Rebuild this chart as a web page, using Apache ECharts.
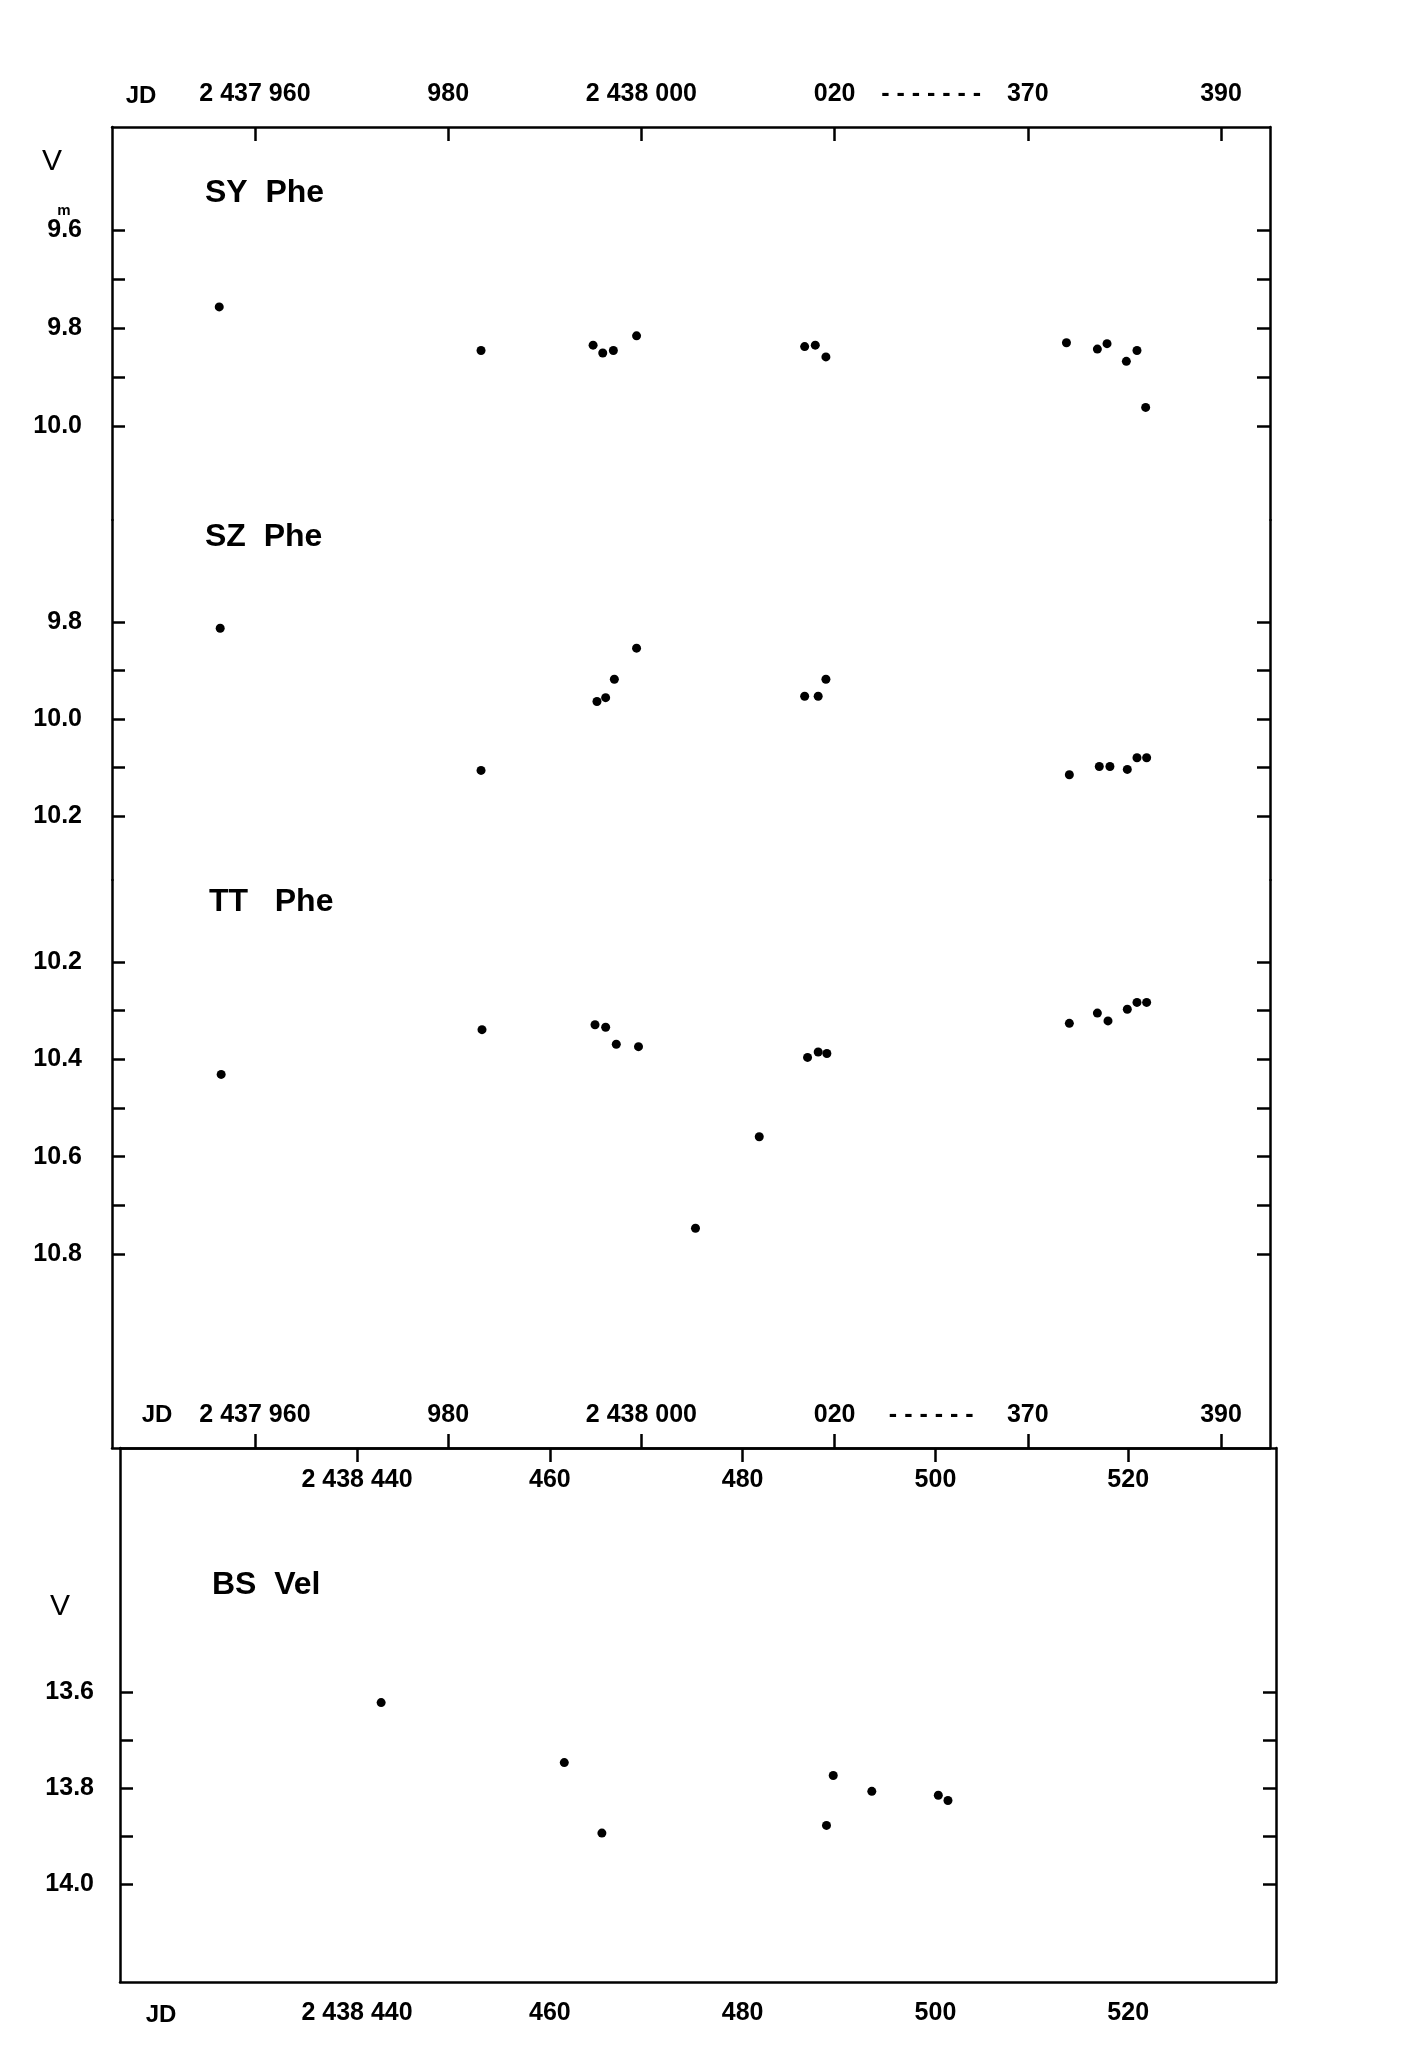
<!DOCTYPE html>
<html><head><meta charset="utf-8">
<script src="https://cdn.jsdelivr.net/npm/echarts@6/dist/echarts.min.js"></script>
<style>html,body{margin:0;padding:0;background:#fff}#c{width:1412px;height:2048px}</style>
</head><body><div id="c"></div>
<script>
// ---------- DATA ----------
// Upper panel: JD (broken axis: 2438020 ... 2438370), V magnitudes
const syJD = [2437956.3,2437983.4,2437995.0,2437996.0,2437997.1,2437999.5,2438016.9,2438018.0,2438019.1,2438374.0,2438377.2,2438378.2,2438380.2,2438381.3,2438382.2];
const syV  = [9.757,9.846,9.835,9.851,9.846,9.816,9.838,9.835,9.859,9.830,9.843,9.832,9.868,9.846,9.962];

const szJD = [2437956.4,2437983.4,2437995.4,2437996.3,2437997.2,2437999.5,2438016.9,2438018.3,2438019.1,2438374.3,2438377.4,2438378.5,2438380.3,2438381.3,2438382.3];
const szV  = [9.813,10.106,9.964,9.956,9.918,9.854,9.953,9.953,9.918,10.115,10.098,10.098,10.104,10.080,10.080];

const ttJD = [2437956.5,2437983.5,2437995.2,2437996.3,2437997.4,2437999.7,2438005.6,2438012.2,2438017.2,2438018.3,2438019.2,2438374.3,2438377.2,2438378.3,2438380.3,2438381.3,2438382.3];
const ttV  = [10.431,10.339,10.329,10.334,10.369,10.374,10.747,10.559,10.396,10.385,10.388,10.326,10.305,10.321,10.297,10.283,10.283];

// Lower panel: BS Vel
const bsJD = [2438442.5,2438461.5,2438465.4,2438488.7,2438489.4,2438493.4,2438500.3,2438501.3];
const bsV  = [13.622,13.747,13.894,13.878,13.774,13.807,13.815,13.826];

// Tick values and labels
const upperTickJD = [2437960,2437980,2438000,2438020,2438370,2438390];
const upperTickText = ['2 437 960','980','2 438 000','020','370','390'];
const lowerTickJD = [2438440,2438460,2438480,2438500,2438520];
const lowerTickText = ['2 438 440','460','480','500','520'];
const syTicks = [9.6,9.7,9.8,9.9,10.0];   const syLabels = [9.6,9.8,10.0];
const szTicks = [9.8,9.9,10.0,10.1,10.2]; const szLabels = [9.8,10.0,10.2];
const ttTicks = [10.2,10.3,10.4,10.5,10.6,10.7,10.8]; const ttLabels = [10.2,10.4,10.6,10.8];
const bsTicks = [13.6,13.7,13.8,13.9,14.0]; const bsLabels = [13.6,13.8,14.0];

// Axis gap: JD 2438370 is drawn 20 days after 2438020
const GAP_START = 2438370, GAP_SHIFT = 330;
function px(jd){ return jd >= GAP_START - 50 ? jd - GAP_SHIFT : jd; }

// ---------- CHART ----------
const FONT = "'Liberation Sans',Arial,sans-serif";
const LW = 2.5;
const upperMin = 2437945.2, upperMax = 2438065.07;
const lowerMin = 2438415.41, lowerMax = 2438535.33;

const upperLabelVals = upperTickJD.map(px).concat([2438030]);
const upperLabelMap = {};
upperTickJD.forEach((d,i)=>{ upperLabelMap[px(d).toFixed(1)] = upperTickText[i]; });
const lowerLabelMap = {};
lowerTickJD.forEach((d,i)=>{ lowerLabelMap[d.toFixed(1)] = lowerTickText[i]; });

const lab = {color:'#000', fontFamily: FONT, fontSize: 25, fontWeight: 'bold'};
const line = {show:true, lineStyle:{color:'#000', width: LW}};
const tick = (vals, len) => ({show:true, inside:true, length: len||13, customValues: vals, lineStyle:{color:'#000', width: LW}});

function upperX(grid, pos, showLabels, dashText){
  return {type:'value', gridIndex:grid, position:pos, min:upperMin, max:upperMax,
    axisLine: line, splitLine:{show:false},
    axisTick: tick(upperTickJD.map(px), 14),
    axisLabel: showLabels ? Object.assign({show:true, inside: pos==='bottom', margin: 20,
      customValues: upperLabelVals,
      formatter: v => (Math.abs(v-2438030)<0.01 ? dashText : (upperLabelMap[v.toFixed(1)]||''))}, lab) : {show:false}};
}
function magY(grid, pos, min, max, ticks, labels, margin){
  return {type:'value', gridIndex:grid, position:pos, inverse:true, min:min, max:max,
    axisLine: line, splitLine:{show:false}, axisTick: tick(ticks, 13),
    axisLabel: pos==='left' ? Object.assign({show:true, margin: margin, customValues: labels,
      formatter: v => v.toFixed(1)}, lab) : {show:false}};
}

const grids = [
  {left:112, top:127, width:1158, height:393},
  {left:112, top:520, width:1158, height:360},
  {left:112, top:880, width:1158, height:568},
  {left:120, top:1448, width:1156, height:534}
];
const yr = [
  [9.6 - 103/490, 9.6 - 103/490 + 393/490],
  [9.8 - 102/485, 9.8 - 102/485 + 360/485],
  [10.2 - 82/486.7, 10.2 - 82/486.7 + 568/486.7],
  [13.6 - 244/480, 13.6 - 244/480 + 534/480]
];

const xAxes = [
  upperX(0,'top',true,'- - - - - - -'),
  Object.assign(upperX(1,'bottom',false), {show:false}),
  upperX(2,'bottom',true,'- - - - - -'),
  {type:'value', gridIndex:3, position:'top', min:lowerMin, max:lowerMax, axisLine: line, splitLine:{show:false},
   axisTick: tick(lowerTickJD, 14),
   axisLabel: Object.assign({show:true, inside:true, margin:20, customValues: lowerTickJD,
     formatter: v => lowerLabelMap[v.toFixed(1)]||''}, lab)},
  {type:'value', gridIndex:3, position:'bottom', min:lowerMin, max:lowerMax, axisLine: line, splitLine:{show:false},
   axisTick:{show:false},
   axisLabel: Object.assign({show:true, margin:19, customValues: lowerTickJD,
     formatter: v => lowerLabelMap[v.toFixed(1)]||''}, lab)}
];
const yAxes = [
  magY(0,'left',yr[0][0],yr[0][1],syTicks,syLabels,30), magY(0,'right',yr[0][0],yr[0][1],syTicks,[]),
  magY(1,'left',yr[1][0],yr[1][1],szTicks,szLabels,30), magY(1,'right',yr[1][0],yr[1][1],szTicks,[]),
  magY(2,'left',yr[2][0],yr[2][1],ttTicks,ttLabels,30), magY(2,'right',yr[2][0],yr[2][1],ttTicks,[]),
  magY(3,'left',yr[3][0],yr[3][1],bsTicks,bsLabels,26), magY(3,'right',yr[3][0],yr[3][1],bsTicks,[])
];

function dots(xi, yi, jd, v, map){
  return {type:'scatter', xAxisIndex:xi, yAxisIndex:yi, symbol:'circle', symbolSize:9,
    itemStyle:{color:'#000', opacity:1}, silent:true, data: jd.map((d,i)=>[map(d), v[i]])};
}

const T = (text, x, y, size, extra) => ({type:'text', x:x, y:y, style:Object.assign({text:text, fill:'#000',
  font: 'bold '+size+'px '+FONT, textVerticalAlign:'middle'}, extra||{})});

const chart = echarts.init(document.getElementById('c'), null, {renderer:'canvas'});
chart.setOption({
  backgroundColor:'#fff', animation:false,
  grid: grids, xAxis: xAxes, yAxis: yAxes,
  series: [
    dots(0,0,syJD,syV,px), dots(1,2,szJD,szV,px), dots(2,4,ttJD,ttV,px), dots(3,6,bsJD,bsV,d=>d)
  ],
  graphic: [
    T('SY  Phe', 205, 193, 32), T('SZ  Phe', 205, 537, 32), T('TT   Phe', 209, 902, 32), T('BS  Vel', 212, 1585, 32),
    T('V', 52, 162, 28, {textAlign:'center', font:'30px '+FONT}),
    T('V', 60, 1607, 28, {textAlign:'center', font:'30px '+FONT}),
    T('m', 64, 211, 15, {textAlign:'center'}),
    T('JD', 141, 96, 24, {textAlign:'center'}),
    T('JD', 157, 1415, 24, {textAlign:'center'}),
    T('JD', 161, 2015, 24, {textAlign:'center'})
  ]
});
</script></body></html>
